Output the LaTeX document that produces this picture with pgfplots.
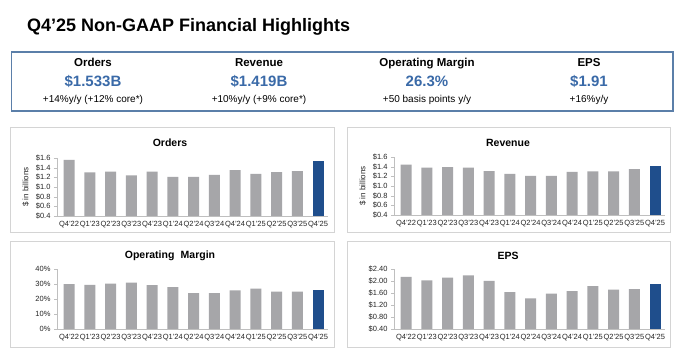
\documentclass[border=0pt]{standalone}
\usepackage{fontspec}
\setmainfont{Liberation Sans}
\usepackage{pgfplots}
\pgfplotsset{compat=1.18}
\definecolor{barg}{HTML}{A6A6A9}
\definecolor{barb}{HTML}{1F4E8C}
\definecolor{valblue}{HTML}{3A6AA8}
\definecolor{boxblue}{HTML}{5B7FA9}
\definecolor{panelgray}{HTML}{D4D4D4}
\definecolor{axgray}{HTML}{BFBFBF}
\pgfplotsset{
  panel/.style={
    scale only axis, width=271pt,
    xmin=-0.58, xmax=12.48,
    axis x line=bottom, axis y line=left,
    axis line style={draw=axgray,-},
    xtick={0,...,12},
    xticklabels={Q4’22,Q1’23,Q2’23,Q3’23,Q4’23,Q1’24,Q2’24,Q3’24,Q4’24,Q1’25,Q2’25,Q3’25,Q4’25},
    x tick style={draw=none},
    y tick style={draw=axgray},
    tick align=outside, major tick length=3pt,
    tick label style={font=\fontsize{7.5}{8}\selectfont, text=black!85},
    /pgf/number format/assume math mode=true,
    xticklabel style={yshift=1pt},
    ylabel style={font=\fontsize{8}{9}\selectfont, text=black!85},
    ybar, bar width=11pt, bar shift=0pt,
  },
  gbar/.style={fill=barg, draw=none},
  bbar/.style={fill=barb, draw=none},
}
\begin{document}
\begin{tikzpicture}
\useasboundingbox[fill=white] (0pt,0pt) rectangle (680pt,-355pt);
% title
\node[anchor=base west, inner sep=0pt, font=\bfseries\fontsize{18}{20}\selectfont] at (27pt,-32pt) {Q4’25 Non-GAAP Financial Highlights};
% highlights box
\draw[boxblue, line width=1.2pt] (11.5pt,-52pt) rectangle (673pt,-111pt);
\foreach \cx/\lab/\val/\sub in {93/Orders/\$1.533B/{+14\%y/y (+12\% core*)}, 259/Revenue/\$1.419B/{+10\%y/y (+9\% core*)}, 427/Operating Margin/26.3\%/{+50 basis points y/y}, 589/EPS/\$1.91/{+16\%y/y}}{
  \node[anchor=base, inner sep=0pt, font=\bfseries\fontsize{11.5}{13}\selectfont] at (\cx pt,-67pt) {\lab};
  \node[anchor=base, inner sep=0pt, font=\bfseries\fontsize{15}{17}\selectfont, text=valblue] at (\cx pt,-87pt) {\val};
  \node[anchor=base, inner sep=0pt, font=\fontsize{10}{12}\selectfont] at (\cx pt,-103pt) {\sub};
}
% panels
\draw[panelgray, line width=1pt] (10pt,-128pt) rectangle (334pt,-233pt);
\draw[panelgray, line width=1pt] (347pt,-128pt) rectangle (670pt,-233pt);
\draw[panelgray, line width=1pt] (10pt,-242pt) rectangle (334pt,-347pt);
\draw[panelgray, line width=1pt] (347pt,-242pt) rectangle (670pt,-347pt);
\node[font=\bfseries\fontsize{10.5}{12}\selectfont, inner sep=0pt] at (170pt,-143pt) {Orders};
\node[font=\bfseries\fontsize{10.5}{12}\selectfont, inner sep=0pt] at (508pt,-143pt) {Revenue};
\node[font=\bfseries\fontsize{10.5}{12}\selectfont, inner sep=0pt] at (170pt,-256pt) {Operating\hspace{0.6em}Margin};
\node[font=\bfseries\fontsize{10.5}{12}\selectfont, inner sep=0pt] at (508pt,-256pt) {EPS};
% Orders
\begin{axis}[panel, at={(57pt,-216pt)}, anchor=south west, height=58pt,
  ymin=0.4, ymax=1.6, ytick={0.4,0.6,0.8,1.0,1.2,1.4,1.6},
  yticklabel={\$\pgfmathprintnumber[fixed,fixed zerofill,precision=1]{\tick}},
  ylabel={\$ in billions}]
\addplot[gbar] coordinates {(0,1.56) (1,1.30) (2,1.32) (3,1.24) (4,1.32) (5,1.21) (6,1.21) (7,1.25) (8,1.35) (9,1.27) (10,1.31) (11,1.33)};
\addplot[bbar] coordinates {(12,1.533)};
\end{axis}
% Revenue
\begin{axis}[panel, at={(394pt,-215pt)}, anchor=south west, height=58pt,
  ymin=0.4, ymax=1.6, ytick={0.4,0.6,0.8,1.0,1.2,1.4,1.6},
  yticklabel={\$\pgfmathprintnumber[fixed,fixed zerofill,precision=1]{\tick}},
  ylabel={\$ in billions}]
\addplot[gbar] coordinates {(0,1.44) (1,1.38) (2,1.39) (3,1.38) (4,1.31) (5,1.25) (6,1.21) (7,1.21) (8,1.29) (9,1.30) (10,1.30) (11,1.35)};
\addplot[bbar] coordinates {(12,1.419)};
\end{axis}
% Operating margin
\begin{axis}[panel, at={(57pt,-329pt)}, anchor=south west, height=60pt,
  ymin=0, ymax=40, ytick={0,10,20,30,40},
  yticklabel={\pgfmathprintnumber{\tick}\%}]
\addplot[gbar] coordinates {(0,30.0) (1,29.5) (2,30.2) (3,31.0) (4,29.2) (5,28.0) (6,24.0) (7,24.0) (8,25.8) (9,27.0) (10,25.0) (11,25.0)};
\addplot[bbar] coordinates {(12,26.3)};
\end{axis}
% EPS
\begin{axis}[panel, at={(394pt,-329pt)}, anchor=south west, height=60pt,
  ymin=0.4, ymax=2.4, ytick={0.4,0.8,1.2,1.6,2.0,2.4},
  yticklabel={\$\pgfmathprintnumber[fixed,fixed zerofill,precision=2]{\tick}}]
\addplot[gbar] coordinates {(0,2.14) (1,2.02) (2,2.11) (3,2.19) (4,2.00) (5,1.63) (6,1.42) (7,1.58) (8,1.66) (9,1.83) (10,1.71) (11,1.73)};
\addplot[bbar] coordinates {(12,1.91)};
\end{axis}
\end{tikzpicture}
\end{document}
